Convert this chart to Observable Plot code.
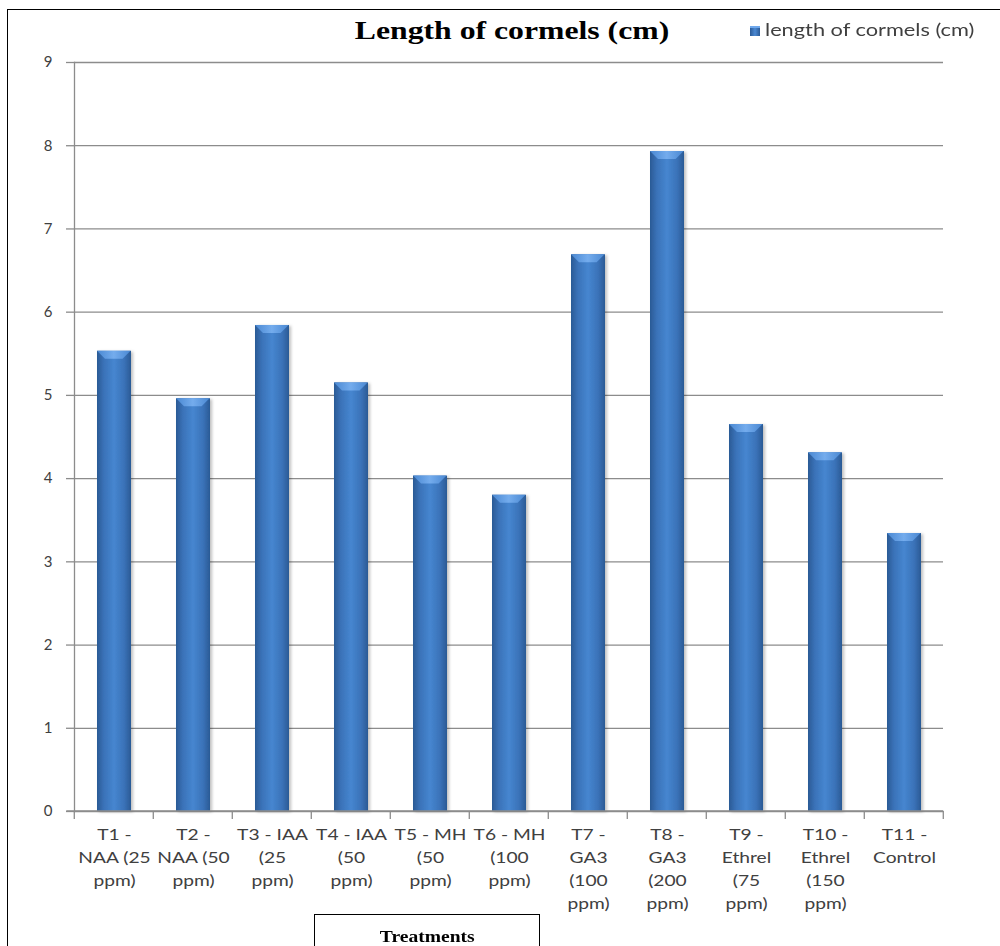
<!DOCTYPE html>
<html>
<head>
<meta charset="utf-8">
<script src="https://cdn.jsdelivr.net/npm/d3@7"></script>
<script src="https://cdn.jsdelivr.net/npm/@observablehq/plot@0.6"></script>
<style>
  html, body { margin: 0; padding: 0; background: #fff; overflow: hidden; }
  #wrap { position: relative; width: 1000px; height: 946px; overflow: hidden; background: #fff; }
  #border { position: absolute; left: 7px; top: 9px; width: 1100px; height: 1100px; border-left: 1.5px solid #000; border-top: 1.5px solid #000; box-sizing: border-box; pointer-events: none; }
  #title { position: absolute; left: 512px; top: 16px; white-space: nowrap; transform: translateX(-50%) scaleX(1.22); font-family: "Liberation Serif", "DejaVu Serif", serif; font-weight: bold; font-size: 26px; color: #000; }
  #legend { position: absolute; left: 750px; top: 19px; white-space: nowrap; font-family: Lato, "Open Sans", sans-serif; font-size: 17px; color: #404040; display: flex; align-items: center; }
  #legend .sw { width: 10px; height: 10px; margin-right: 5px; margin-top: 2px; background: linear-gradient(90deg, #2b5b97, #4a88d2 50%, #2b5b97); border-top: 2px solid #6fa8ec; box-sizing: border-box; }
  #legend .lt { display: inline-block; transform: scaleX(1.28); transform-origin: left center; }
  #xtitle { position: absolute; left: 314px; top: 914px; width: 226px; height: 60px; border: 1.5px solid #000; box-sizing: border-box; background: #fff; text-align: center; font-family: "Liberation Serif", "DejaVu Serif", serif; font-weight: bold; font-size: 17px; padding-top: 12px; }
  #xtitle span { display: inline-block; transform: scaleX(1.15); }
  #chart { position: absolute; left: 0; top: 0; }
</style>
</head>
<body>
<div id="wrap">
  <div id="chart"></div>
  <div id="border"></div>
  <div id="title">Length of cormels (cm)</div>
  <div id="legend"><span class="sw"></span><span class="lt">length of cormels (cm)</span></div>
  <div id="xtitle"><span>Treatments</span></div>
</div>
<script>
const categories = ["T1","T2","T3","T4","T5","T6","T7","T8","T9","T10","T11"];
const tickLabels = [
  "T1 -\nNAA (25\nppm)",
  "T2 -\nNAA (50\nppm)",
  "T3 - IAA\n(25\nppm)",
  "T4 - IAA\n(50\nppm)",
  "T5 - MH\n(50\nppm)",
  "T6 - MH\n(100\nppm)",
  "T7 -\nGA3\n(100\nppm)",
  "T8 -\nGA3\n(200\nppm)",
  "T9 -\nEthrel\n(75\nppm)",
  "T10 -\nEthrel\n(150\nppm)",
  "T11 -\nControl"
];
const lengthValues = [5.53, 4.96, 5.84, 5.15, 4.03, 3.80, 6.69, 7.93, 4.65, 4.31, 3.34];
const yTicks = [0,1,2,3,4,5,6,7,8,9];

const PAD_INNER = 0.575;
const data = categories.map((c, i) => ({cat: c, label: tickLabels[i], value: lengthValues[i]}));

function bandInfo(scales) {
  const x = scales.x;
  const step = x(categories[1]) - x(categories[0]);
  const bw = step * (1 - PAD_INNER);
  return {x, step, bw, gap: (step - bw) / 2};
}

function boundaryTicks(index, scales) {
  const {x, bw, gap} = bandInfo(scales);
  const y = scales.y;
  const y0 = y(0);
  const g = d3.create("svg:g").attr("stroke", "#8c8c8c").attr("stroke-width", 1.3);
  const xs = categories.map(c => x(c) - gap);
  xs.push(x(categories[categories.length - 1]) + bw + gap);
  for (const xv of xs) {
    g.append("line").attr("x1", xv).attr("x2", xv).attr("y1", y0).attr("y2", y0 + 8);
  }
  g.append("line").attr("x1", xs[0] - 8).attr("x2", xs[xs.length - 1]).attr("y1", y0).attr("y2", y0);
  return g.node();
}

function bevels(index, scales) {
  const {x, bw} = bandInfo(scales);
  const y = scales.y;
  const g = d3.create("svg:g");
  data.forEach(d => {
    const left = x(d.cat), right = left + bw, yt = y(d.value);
    const b = 8;
    g.append("polygon")
      .attr("points", `${left},${yt} ${right},${yt} ${right - b},${yt + b} ${left + b},${yt + b}`)
      .attr("fill", "url(#bevelGrad)");
  });
  return g.node();
}

function stretch(index, scales, values, dimensions, context, next) {
  const g = next(index, scales, values, dimensions, context);
  g.querySelectorAll("text").forEach(t => {
    let tr = t.getAttribute("transform") || "";
    const ax = t.getAttribute("x"), ay = t.getAttribute("y");
    if (ax != null || ay != null) {
      tr += ` translate(${+ax || 0},${+ay || 0})`;
      t.removeAttribute("x");
      t.removeAttribute("y");
    }
    t.setAttribute("transform", tr + " scale(1.28,1)");
  });
  return g;
}

const plot = Plot.plot({
  width: 1000,
  height: 946,
  marginTop: 62,
  marginBottom: 135,
  marginLeft: 74,
  marginRight: 57,
  style: {fontFamily: "Lato, 'Open Sans', sans-serif", fontSize: "15px", color: "#404040", background: "transparent"},
  x: {domain: categories, paddingInner: PAD_INNER, paddingOuter: PAD_INNER / 2, axis: null},
  y: {domain: [0, 9], axis: null},
  marks: [
    Plot.gridY(yTicks, {stroke: "#8c8c8c", strokeOpacity: 1, strokeWidth: 1.3}),
    Plot.axisY({ticks: yTicks, tickSize: 8, tickPadding: 14, stroke: "#8c8c8c", strokeWidth: 1.3, fill: "#404040", fontSize: 15, label: null}),
    Plot.frame({anchor: "left", stroke: "#8c8c8c", strokeWidth: 1.3}),
    Plot.barY(data, {x: "cat", y: "value", fill: "url(#barGrad)",
      render(index, scales, values, dimensions, context, next) {
        const g = next(index, scales, values, dimensions, context);
        g.setAttribute("filter", "url(#barShadow)");
        return g;
      }
    }),
    bevels,
    boundaryTicks,
    Plot.text(data, {x: "cat", frameAnchor: "bottom", text: "label", lineAnchor: "top", dy: 12, lineHeight: 1.53, fill: "#404040", fontSize: 15, render: stretch})
  ]
});

const defs = d3.create("svg:defs");
const lg = defs.append("linearGradient").attr("id", "barGrad").attr("x1", "0").attr("x2", "1").attr("y1", "0").attr("y2", "0");
lg.append("stop").attr("offset", "0%").attr("stop-color", "#2a5a95");
lg.append("stop").attr("offset", "20%").attr("stop-color", "#3a72b8");
lg.append("stop").attr("offset", "50%").attr("stop-color", "#4686d0");
lg.append("stop").attr("offset", "80%").attr("stop-color", "#3a72b8");
lg.append("stop").attr("offset", "100%").attr("stop-color", "#2a5a95");
const bg = defs.append("linearGradient").attr("id", "bevelGrad").attr("x1", "0").attr("x2", "1").attr("y1", "0").attr("y2", "0");
bg.append("stop").attr("offset", "0%").attr("stop-color", "#4a88d2");
bg.append("stop").attr("offset", "50%").attr("stop-color", "#74aced");
bg.append("stop").attr("offset", "100%").attr("stop-color", "#4a88d2");
const f = defs.append("filter").attr("id", "barShadow").attr("x", "-20%").attr("y", "-5%").attr("width", "150%").attr("height", "110%");
f.append("feDropShadow").attr("dx", 2).attr("dy", 1).attr("stdDeviation", 1.5).attr("flood-color", "#000").attr("flood-opacity", 0.25);
plot.insertBefore(defs.node(), plot.firstChild);

document.getElementById("chart").appendChild(plot);
</script>
</body>
</html>
